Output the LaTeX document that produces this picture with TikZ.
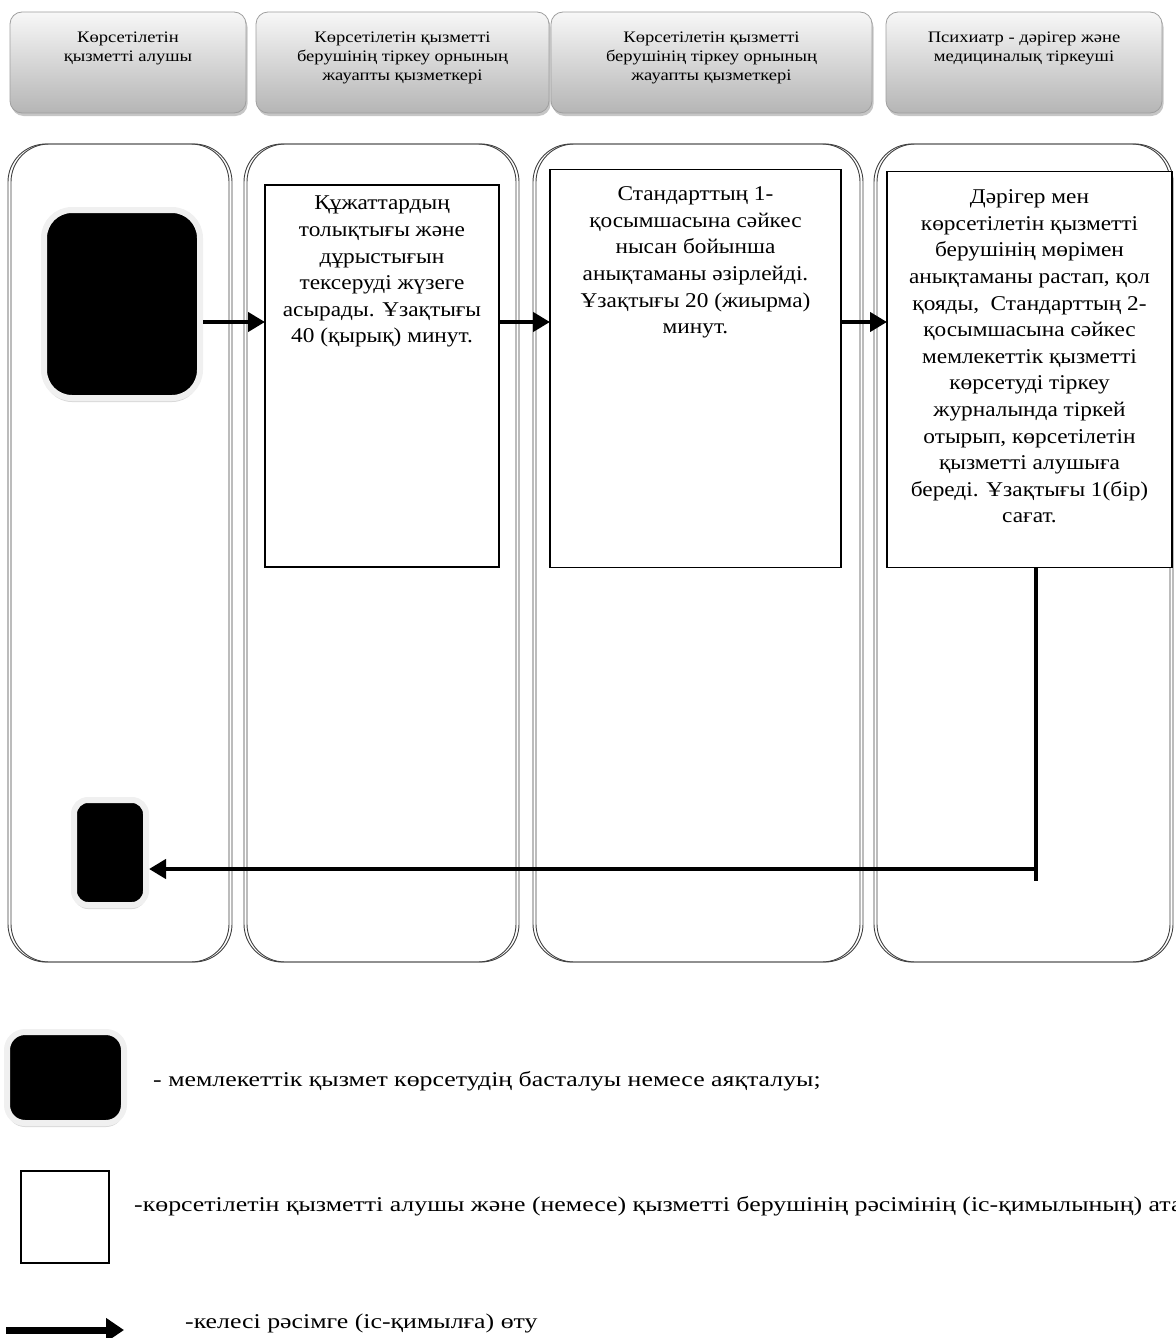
\documentclass[tikz,border=0pt]{standalone}
\usepackage{fontspec}
\setmainfont{Liberation Serif}
\usetikzlibrary{shadows,arrows.meta}

\tikzset{
  header/.style={draw=gray!75, line width=0.8pt, rounded corners=12pt,
    top color=gray!6, bottom color=gray!58, inner sep=0pt, outer sep=0pt,
    drop shadow={shadow xshift=1.5pt, shadow yshift=-3pt, opacity=0.45}},
  headtext/.style={font=\fontsize{16}{19}\selectfont\addfontfeature{FakeStretch=1.16},
    align=center, inner sep=0pt},
  lane/.style={draw=black!75, line width=0.9pt, rounded corners=38pt},
  stepbox/.style={draw=black, line width=1.3pt, fill=white, inner sep=0pt, outer sep=0pt},
  steptext/.style={font=\fontsize{21}{26.6}\selectfont\addfontfeature{FakeStretch=1.11},
    align=center, inner sep=0pt, anchor=north},
  terminal/.style={fill=black, draw=gray!12, line width=6pt, inner sep=0pt, outer sep=3pt,
    drop shadow={shadow xshift=0pt, shadow yshift=-4pt, opacity=0.3, fill=gray}},
  flow/.style={line width=4.2pt, -{Triangle[length=17pt,width=19pt]}},
  legendtext/.style={font=\fontsize{21}{25}\selectfont\addfontfeature{FakeStretch=1.23},
    anchor=west, inner sep=0pt},
}

\begin{document}
\begin{tikzpicture}[x=1pt,y=-1pt]
\useasboundingbox (0,0) rectangle (1175,1338);

% column headers
\node[header, minimum width=236pt, minimum height=101pt] (h1) at (128,62.5) {};
\node[header, minimum width=293pt, minimum height=101pt] (h2) at (402.5,62.5) {};
\node[header, minimum width=321pt, minimum height=101pt] (h3) at (711.5,62.5) {};
\node[header, minimum width=276pt, minimum height=101pt] (h4) at (1024,62.5) {};
\node[headtext, anchor=north] (t1) at ([yshift=-20pt]h1.north) {Көрсетілетін\\қызметті алушы};
\node[headtext, anchor=north] (t2) at ([yshift=-20pt]h2.north) {Көрсетілетін қызметті\\берушінің тіркеу орнының\\жауапты қызметкері};
\node[headtext, anchor=north] (t3) at ([yshift=-20pt]h3.north) {Көрсетілетін қызметті\\берушінің тіркеу орнының\\жауапты қызметкері};
\node[headtext, anchor=north] (t4) at ([yshift=-20pt]h4.north) {Психиатр - дәрігер және\\медициналық тіркеуші};

% swimlanes (drawn twice, slightly offset)
\foreach \xa/\xb in {8/229, 244/516, 533/860, 874/1170}{
  \draw[lane] (\xa,144) rectangle (\xb,962);
  \draw[lane] (\xa+3,144) rectangle (\xb+3,962);
}

% process steps
\node[stepbox, minimum width=234pt, minimum height=382pt] (boxA) at (382,376) {};
\node[stepbox, minimum width=291pt, minimum height=398pt] (boxB) at (695.5,368.5) {};
\node[stepbox, minimum width=285pt, minimum height=396pt] (boxC) at (1029.5,369.5) {};

\node[steptext] (ta) at ([yshift=-11pt]boxA.north) {Құжаттардың\\толықтығы және\\дұрыстығын\\тексеруді жүзеге\\асырады. Ұзақтығы\\40 (қырық) минут.};
\node[steptext] (tb) at ([yshift=-17pt]boxB.north) {Стандарттың 1-\\қосымшасына сәйкес\\нысан бойынша\\анықтаманы әзірлейді.\\Ұзақтығы 20 (жиырма)\\минут.};
\node[steptext] (tc) at ([yshift=-18pt]boxC.north) {Дәрігер мен\\көрсетілетін қызметті\\берушінің мөрімен\\анықтаманы растап, қол\\қояды,\ \ Стандарттың 2-\\қосымшасына сәйкес\\мемлекеттік қызметті\\көрсетуді тіркеу\\журналында тіркей\\отырып, көрсетілетін\\қызметті алушыға\\береді. Ұзақтығы 1(бір)\\сағат.};

% start and end terminals
\node[terminal, rounded corners=28pt, minimum width=156pt, minimum height=188pt] (start) at (122,304) {};
\node[terminal, rounded corners=14pt, minimum width=72pt, minimum height=105pt] (end) at (110,852.5) {};

% connectors
\coordinate (row) at (0,322);
\draw[flow] (start.east |- row) -- (boxA.west |- row);
\draw[flow] (boxA.east |- row) -- (boxB.west |- row);
\draw[flow] (boxB.east |- row) -- (boxC.west |- row);

\coordinate (turn) at (1036,869);
\draw[line width=4.5pt] (boxC.south -| turn) -- ([yshift=-12pt]turn);
\draw[flow] (turn) -- (end.east |- turn);

% legend
\node[terminal, rounded corners=18pt, minimum width=117pt, minimum height=91pt] (lgStart) at (65.5,1077.5) {};
\node[legendtext] (lgStartText) at (153,1081) {- мемлекеттік қызмет көрсетудің басталуы немесе аяқталуы;};
\node[stepbox, minimum width=88pt, minimum height=92pt] (lgBox) at (65,1217) {};
\node[legendtext] (lgBoxText) at (134,1206) {-көрсетілетін қызметті алушы және (немесе) қызметті берушінің рәсімінің (іс-қимылының) атауы};
\coordinate (lgA) at (6,1330);
\coordinate (lgB) at (124,1330);
\draw[line width=7pt, -{Triangle[length=18pt,width=23pt]}] (lgA) -- (lgB);
\node[legendtext] (lgArrowText) at (185,1323) {-келесі рәсімге (іс-қимылға) өту};
\end{tikzpicture}
\end{document}
